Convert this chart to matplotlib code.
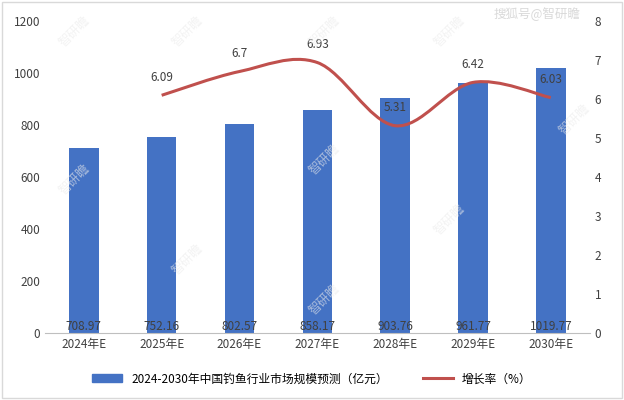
import matplotlib
matplotlib.use("Agg")
import matplotlib.pyplot as plt
from matplotlib import font_manager as fm
from matplotlib.path import Path
from matplotlib.patches import PathPatch
from matplotlib.lines import Line2D
import numpy as np

cjk = None
for f in fm.findSystemFonts():
    if "CJK" in f or "cjk" in f.lower():
        try:
            fm.fontManager.addfont(f)
        except Exception:
            pass
names = [f.name for f in fm.fontManager.ttflist]
for cand in ["Noto Sans CJK SC", "Noto Sans CJK JP", "Noto Sans CJK TC", "Noto Sans SC"]:
    if cand in names:
        cjk = cand
        break
plt.rcParams["font.family"] = [cjk or "DejaVu Sans", "DejaVu Sans"]

years = ["2024年E", "2025年E", "2026年E", "2027年E", "2028年E", "2029年E", "2030年E"]
market = [708.97, 752.16, 802.57, 858.17, 903.76, 961.77, 1019.77]
growth_years_idx = [1, 2, 3, 4, 5, 6]
growth = [6.09, 6.7, 6.93, 5.31, 6.42, 6.03]

fig = plt.figure(figsize=(6.24, 4.0), dpi=100)
ax = fig.add_axes([0.072, 0.168, 0.873, 0.78])
x = np.arange(len(years))
ax.bar(x, market, width=0.38, color="#4472C4", zorder=2)
ax.set_ylim(0, 1200)
ax.set_yticks(range(0, 1201, 200))
ax.set_xlim(-0.5, len(years) - 0.5)
ax.set_xticks(x)
ax.set_xticklabels(years, fontsize=8.5, color="#404040")
for s in ["top", "right", "left"]:
    ax.spines[s].set_visible(False)
ax.spines["bottom"].set_color("#BFBFBF")
ax.tick_params(axis="y", length=0, labelsize=8.5, labelcolor="#404040")
ax.tick_params(axis="x", length=0)
for xi, v in zip(x, market):
    ax.text(xi, 0, f"{v:.2f}", ha="center", va="bottom", fontsize=8.5, color="#404040", zorder=4)

ax2 = ax.twinx()
ax2.set_ylim(0, 8)
ax2.set_yticks(range(0, 9))
for s in ["top", "right", "left", "bottom"]:
    ax2.spines[s].set_visible(False)
ax2.tick_params(axis="y", length=0, labelsize=8.5, labelcolor="#404040")

gx = np.array(growth_years_idx, dtype=float)
gy = np.array(growth, dtype=float)
pts = np.column_stack([gx, gy])
verts = [tuple(pts[0])]
codes = [Path.MOVETO]
n = len(pts)
for i in range(n - 1):
    p0 = pts[i - 1] if i > 0 else pts[i]
    p1, p2 = pts[i], pts[i + 1]
    p3 = pts[i + 2] if i + 2 < n else pts[i + 1]
    c1 = p1 + (p2 - p0) / 6
    c2 = p2 - (p3 - p1) / 6
    verts += [tuple(c1), tuple(c2), tuple(p2)]
    codes += [Path.CURVE4] * 3
ax2.add_patch(PathPatch(Path(verts, codes), fill=False, edgecolor="#C0504D", lw=2.2, zorder=3))
for xi, v in zip(gx, gy):
    ax2.text(xi, v + 0.3, f"{v:g}", ha="center", va="bottom", fontsize=8.5, color="#404040")

handles = [plt.Rectangle((0, 0), 1, 1, color="#4472C4"),
           Line2D([0], [0], color="#C0504D", lw=2.2)]
fig.legend(handles, ["2024-2030年中国钓鱼行业市场规模预测（亿元）", "增长率（%）"],
           loc="lower center", bbox_to_anchor=(0.5, 0.01), ncol=2, frameon=False,
           fontsize=8.5, handlelength=2.5, columnspacing=3)

for wx, wy in [(0.12, 0.92), (0.3, 0.92), (0.52, 0.92), (0.72, 0.92), (0.12, 0.55),
               (0.3, 0.35), (0.52, 0.6), (0.72, 0.45), (0.92, 0.7), (0.52, 0.25)]:
    fig.text(wx, wy, "智研瞻", rotation=45, fontsize=9, color="#EBEBEB", alpha=0.6,
             ha="center", va="center", zorder=0)
fig.text(0.93, 0.965, "搜狐号@智研瞻", fontsize=9, color="#D9D9D9", ha="right", va="center")

fig.patches.append(plt.Rectangle((0.003, 0.004), 0.994, 0.992, transform=fig.transFigure,
                                 fill=False, edgecolor="#D9D9D9", lw=1))
fig.savefig("out.png", dpi=100)
